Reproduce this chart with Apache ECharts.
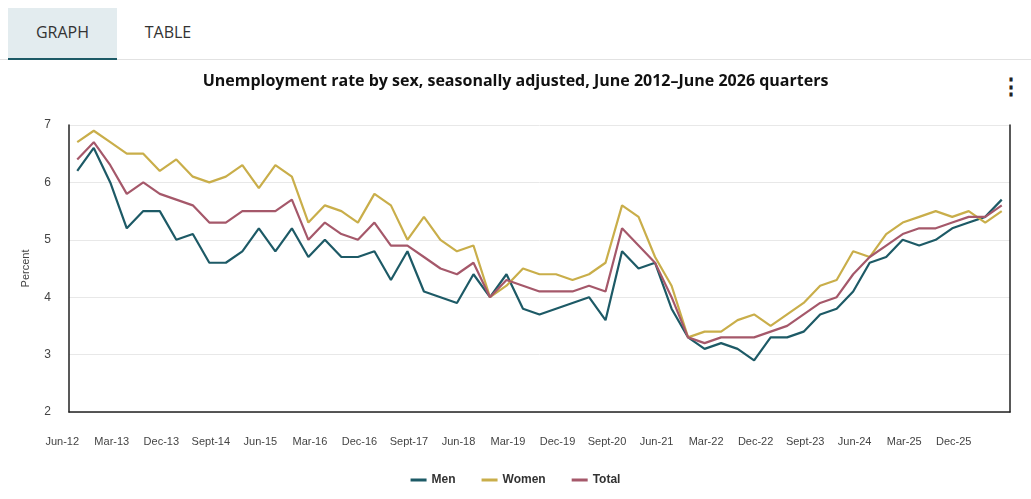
<!DOCTYPE html>
<html><head><meta charset="utf-8">
<script src="https://cdn.jsdelivr.net/npm/echarts@6/dist/echarts.min.js"></script>
<style>
body{margin:0;background:#fff;font-family:"Open Sans",Lato,sans-serif;}
#tabs{position:absolute;left:0;top:0;width:1031px;height:59px;border-bottom:1px solid #e2e2e2;}
.tab{position:absolute;top:8px;height:50px;line-height:48px;font-size:16px;color:#333;text-align:center;}
#g{left:8px;width:109px;background:#e3ecef;border-bottom:2px solid #1d5a66;}
#t{left:130px;width:76px;}
#menu{position:absolute;left:1000px;top:70px;font-size:22px;font-weight:bold;color:#222;}
#chart{position:absolute;left:0;top:60px;width:1031px;height:439px;}
</style></head>
<body>
<div id="tabs"><div class="tab" id="g">GRAPH</div><div class="tab" id="t">TABLE</div></div>
<div id="menu">&#8942;</div>
<div id="chart"></div>
<script>
var quarters = [];
var qn = ['Mar','Jun','Sept','Dec'];
for (var y = 12; y <= 26; y++) for (var q = 0; q < 4; q++) {
  if ((y === 12 && q < 1) || (y === 26 && q > 1)) continue;
  quarters.push(qn[q] + '-' + y);
}
var men = [6.2,6.6,6.0,5.2,5.5,5.5,5.0,5.1,4.6,4.6,4.8,5.2,4.8,5.2,4.7,5.0,4.7,4.7,4.8,4.3,4.8,4.1,4.0,3.9,4.4,4.0,4.4,
  3.8,3.7,3.8,3.9,4.0,3.6,4.8,4.5,4.6,3.8,3.3,3.1,3.2,3.1,2.9,3.3,3.3,3.4,3.7,3.8,4.1,4.6,4.7,5.0,4.9,5.0,5.2,5.3,5.4,5.7];
var women = [6.7,6.9,6.7,6.5,6.5,6.2,6.4,6.1,6.0,6.1,6.3,5.9,6.3,6.1,5.3,5.6,5.5,5.3,5.8,5.6,5.0,5.4,5.0,4.8,4.9,4.0,4.2,
  4.5,4.4,4.4,4.3,4.4,4.6,5.6,5.4,4.7,4.2,3.3,3.4,3.4,3.6,3.7,3.5,3.7,3.9,4.2,4.3,4.8,4.7,5.1,5.3,5.4,5.5,5.4,5.5,5.3,5.5];
var total = [6.4,6.7,6.3,5.8,6.0,5.8,5.7,5.6,5.3,5.3,5.5,5.5,5.5,5.7,5.0,5.3,5.1,5.0,5.3,4.9,4.9,4.7,4.5,4.4,4.6,4.0,4.3,
  4.2,4.1,4.1,4.1,4.2,4.1,5.2,4.9,4.6,4.0,3.3,3.2,3.3,3.3,3.3,3.4,3.5,3.7,3.9,4.0,4.4,4.7,4.9,5.1,5.2,5.2,5.3,5.4,5.4,5.6];

var myChart = echarts.init(document.getElementById('chart'));
function ser(name, data, color) {
  return {name: name, type: 'line', data: data, symbol: 'none', lineStyle: {width: 2.2, color: color}, itemStyle: {color: color}};
}
var option = {
  animation: false,
  title: {text: 'Unemployment rate by sex, seasonally adjusted, June 2012\u2013June 2026 quarters', left: 'center', top: 8,
    textStyle: {fontSize: 16, fontWeight: 'bold', color: '#111', fontFamily: 'Open Sans'}},
  grid: {left: 69, right: 21, top: 65, bottom: 87},
  legend: {bottom: 8, itemWidth: 16, itemHeight: 3, itemGap: 26, icon: 'rect',
    textStyle: {fontSize: 12, fontWeight: 'bold', color: '#333'}, data: ['Men', 'Women', 'Total']},
  xAxis: {type: 'category', data: quarters, boundaryGap: true,
    axisLine: {lineStyle: {color: '#222', width: 1.5}},
    axisTick: {alignWithLabel: true, interval: 2, length: 6, lineStyle: {color: '#ccc'}},
    axisLabel: {interval: 2, color: '#444', fontSize: 11, margin: 24, padding: [0, 30, 0, 0]}},
  yAxis: [{type: 'value', min: 2, max: 7, interval: 1, name: 'Percent', nameLocation: 'middle', nameGap: 38,
    nameTextStyle: {color: '#444', fontSize: 11},
    axisLine: {show: true, lineStyle: {color: '#222', width: 1.5}},
    axisLabel: {color: '#444', fontSize: 12, margin: 18},
    splitLine: {lineStyle: {color: '#e8e8e8'}}},
    {type: 'value', min: 2, max: 7, position: 'right', axisLine: {show: true, lineStyle: {color: '#222', width: 1.5}},
    axisLabel: {show: false}, splitLine: {show: false}}],
  series: [ser('Men', men, '#1d5a66'), ser('Women', women, '#c9ae4a'), ser('Total', total, '#a5586a')]
};
myChart.setOption(option);
</script>
</body></html>
